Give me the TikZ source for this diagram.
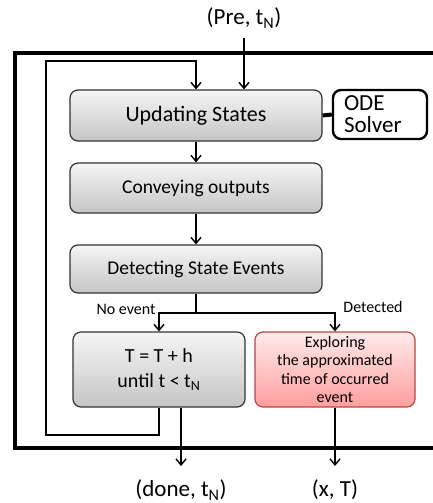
\documentclass[tikz,border=0pt]{standalone}
\usepackage{fontspec}
\setmainfont{Carlito}
\usetikzlibrary{arrows.meta}

\tikzset{
  box/.style={draw=gray!40!black, line width=1.2pt, rounded corners=8pt,
    top color=gray!8, bottom color=gray!45, align=center,
    font=\fontsize{19.5}{25}\selectfont},
  hitbox/.style={box, draw=red!45!gray, top color=red!8, bottom color=red!38,
    font=\fontsize{16}{18.5}\selectfont},
  solverbox/.style={draw, line width=2.4pt, rounded corners=8pt, fill=white,
    align=left, font=\fontsize{23}{22}\selectfont},
  flow/.style={line width=1.4pt, -{Straight Barb[length=6pt, width=10pt, line width=1.4pt]}},
  io/.style={font=\fontsize{23}{26}\selectfont},
  tag/.style={font=\fontsize{16}{18}\selectfont}
}

\begin{document}
\begin{tikzpicture}[x=1pt, y=-1pt]
  \useasboundingbox (0,0) rectangle (432,503);
  % outer frame
  \draw[line width=4pt] (440,53) -- (15,53) -- (15,448) -- (440,448);

  % blocks
  \node[box, minimum width=252pt, minimum height=51pt, font=\fontsize{22}{26}\selectfont] (upd) at (196,115.5) {Updating States};
  \node[box, minimum width=252pt, minimum height=50pt] (conv) at (196,188) {Conveying outputs};
  \node[box, minimum width=252pt, minimum height=48pt] (det) at (196,269) {Detecting State Events};
  \node[solverbox, minimum width=94pt, minimum height=49pt, text width=72pt] (ode) at (380,114.5) {ODE\\Solver};
  \node[box, minimum width=172pt, minimum height=75pt, font=\fontsize{20}{25}\selectfont] (tbox) at (159,369.5) {T = T + h\\until t < t\textsubscript{N}};
  \node[hitbox, minimum width=160pt, minimum height=75pt] (expl) at (335,369.5)
    {Exploring\\the approximated\\time of occurred\\event};

  % inputs and outputs
  \node[io] (pre) at (244,18) {(Pre, t\textsubscript{N})};
  \node[io] (done) at (181,490) {(done, t\textsubscript{N})};
  \node[io] (xt) at (335,490) {(x, T)};
  \coordinate (in) at (244,38);
  \coordinate (outa) at (181,466);
  \coordinate (outb) at (335,466);

  % branch labels
  \node[tag] (noev) at (126,309) {No event};
  \node[tag] (found) at (373,307) {Detected};

  \draw[line width=4pt] (upd.east) -- (ode.west);
  \draw[flow] (in) -- (in |- upd.north);
  \draw[flow] (upd.south) -- (conv.north);
  \draw[flow] (conv.south) -- (det.north);

  \coordinate (br) at (196,313);
  \draw[line width=1.8pt] (det.south) -- (br);
  \draw[flow] (br) -| (tbox.north);
  \draw[flow] (br) -| (expl.north);

  % loop back
  \coordinate (lpa) at (46,435);
  \coordinate (lpb) at (46,61);
  \draw[flow] (tbox.south) |- (lpa) -- (lpb) -| (upd.north);

  \draw[flow] (tbox.south -| outa) -- (outa);
  \draw[flow] (expl.south) -- (outb);
\end{tikzpicture}
\end{document}
